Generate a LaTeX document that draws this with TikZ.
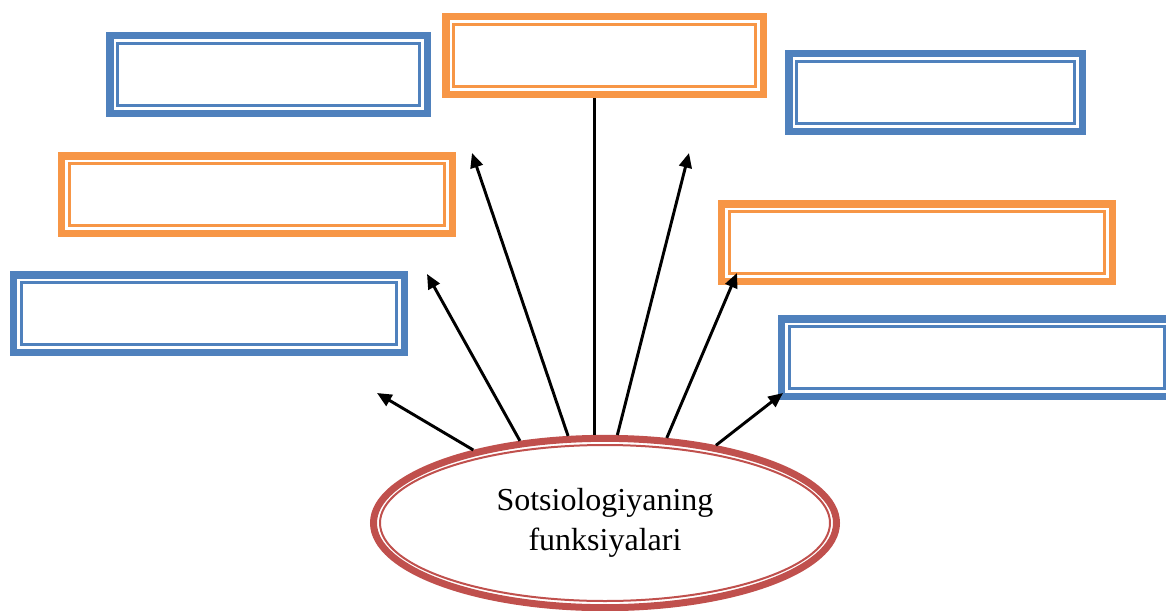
\documentclass[tikz,border=0pt]{standalone}
\usepackage{fontspec}
\setmainfont{Liberation Serif}
\usetikzlibrary{arrows.meta,shapes.geometric}
\definecolor{boxblue}{HTML}{4F81BD}
\definecolor{boxorange}{HTML}{F79646}
\definecolor{ellred}{HTML}{C0504D}
\begin{document}
\begin{tikzpicture}[x=0.75pt, y=-0.75pt,
	fbox/.style={draw=#1, rectangle, line width=5.6pt, outer sep=2.8pt, inner sep=0pt, minimum height=58.1pt},
	arr/.style={-{Triangle[length=11pt,width=9.5pt]}, line width=2.2pt}]
	\useasboundingbox (0,0) rectangle (1166,610);

	\node[fbox=boxblue, minimum width=238.1pt] (n1) at (268.5,74.5) {};
	\node[fbox=boxorange, minimum width=238.1pt] (n2) at (604.5,55.5) {};
	\node[fbox=boxblue, minimum width=220.1pt] (n3) at (935.5,92.5) {};
	\node[fbox=boxorange, minimum width=292.9pt] (n4) at (257,194.5) {};
	\node[fbox=boxorange, minimum width=292.9pt] (n5) at (917,242.5) {};
	\node[fbox=boxblue, minimum width=292.9pt] (n6) at (209,313.5) {};
	\node[fbox=boxblue, minimum width=292.9pt] (n7) at (977,357.5) {};

	% inner thin frame
	\foreach \n/\c in {n1/boxblue, n2/boxorange, n3/boxblue, n4/boxorange, n5/boxorange, n6/boxblue, n7/boxblue}
		\draw[\c, line width=1.9pt] ([shift={(8.45pt,-8.45pt)}]\n.north west) rectangle ([shift={(-8.45pt,8.45pt)}]\n.south east);

	\node[draw=ellred, ellipse, line width=5.25pt, outer sep=2.6pt, inner sep=0pt,
		minimum width=347.25pt, minimum height=127pt, align=center,
		font=\fontsize{24}{30}\selectfont] (ell) at (605,523) {Sotsiologiyaning\\funksiyalari};
	\draw[ellred, line width=1.5pt] (ell.center) ellipse [x radius=225, y radius=78];

	\coordinate (t1) at (377,393);
	\coordinate (t2) at (427,274);
	\coordinate (t3) at (472,153);
	\coordinate (t5) at (689,153);
	\coordinate (t6) at (737,273);
	\coordinate (t7) at (783,393);

	\draw[arr] (ell.151.6) -- (t1);
	\draw[arr] (ell.136.2) -- (t2);
	\draw[arr] (ell.113.2) -- (t3);
	\draw[line width=2.2pt] (ell.97.6) -- (ell.97.6 |- n2.south);
	\draw[arr] (ell.82.2) -- (t5);
	\draw[arr] (ell.54.7) -- (t6);
	\draw[arr] (ell.35.7) -- (t7);
\end{tikzpicture}
\end{document}
